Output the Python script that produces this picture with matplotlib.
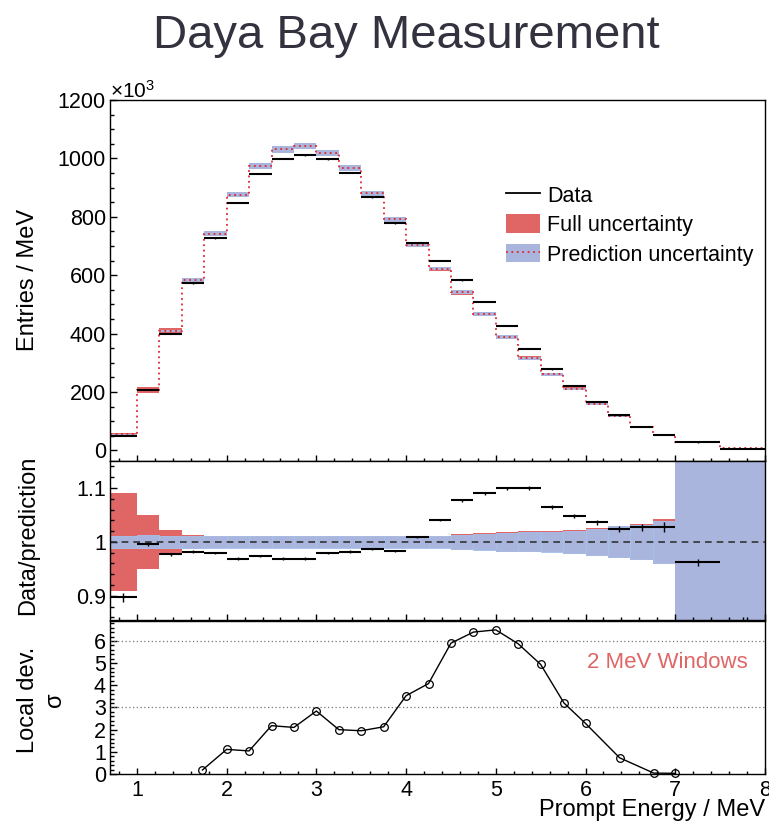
#!/usr/bin/env python3
"""
Daya Bay prompt-energy spectrum: data vs prediction, ratio, local deviation.
"""

import numpy as np
import matplotlib
matplotlib.use("Agg")
import matplotlib.pyplot as plt
from matplotlib.patches import Patch
from matplotlib.lines import Line2D
from matplotlib.ticker import MultipleLocator

plt.rcParams["font.family"] = ["Liberation Sans", "DejaVu Sans"]
plt.rcParams["mathtext.fontset"] = "custom"
plt.rcParams["mathtext.rm"] = "Liberation Sans"
plt.rcParams["mathtext.it"] = "Liberation Sans"

# ── DATA ───────────────────────────────────────────────────────────
bin_edges = [0.7, 1.0, 1.25, 1.5, 1.75, 2.0, 2.25, 2.5, 2.75, 3.0, 3.25, 3.5,
             3.75, 4.0, 4.25, 4.5, 4.75, 5.0, 5.25, 5.5, 5.75, 6.0, 6.25, 6.5,
             6.75, 7.0, 7.5, 8.0]

# prediction, entries / MeV (x10^3)
prediction = [55, 208, 409, 583, 742, 876, 973, 1031, 1043, 1018, 968, 880,
              792, 705, 623, 541, 467, 389, 316, 261, 211, 160, 117, 79, 53,
              28.5, 8]

# data / prediction
ratio = [0.897, 0.996, 0.977, 0.982, 0.980, 0.969, 0.974, 0.969, 0.969,
         0.980, 0.982, 0.986, 0.983, 1.009, 1.041, 1.077, 1.090, 1.0995,
         1.100, 1.064, 1.048, 1.036, 1.024, 1.027, 1.027, 0.962, 0.84]
ratio_err = [0.0085, 0.004, 0.003, 0.002, 0.002, 0.002, 0.002, 0.002, 0.002,
             0.002, 0.002, 0.002, 0.002, 0.002, 0.002, 0.0025, 0.0025, 0.003,
             0.003, 0.0035, 0.004, 0.005, 0.006, 0.0066, 0.009, 0.006, 0.02]

# relative half-widths of the bands
full_unc = [0.091, 0.050, 0.022, 0.013, 0.011, 0.011, 0.011, 0.011, 0.011,
            0.011, 0.011, 0.011, 0.011, 0.011, 0.011, 0.0145, 0.016, 0.018,
            0.0195, 0.0195, 0.0225, 0.026, 0.030, 0.034, 0.042, 0.05, 0.08]
pred_unc = [0.011, 0.012, 0.011, 0.011, 0.0105, 0.0105, 0.0105, 0.0105,
            0.0105, 0.0105, 0.0105, 0.0105, 0.0105, 0.0105, 0.0105, 0.0128,
            0.015, 0.0165, 0.0175, 0.019, 0.021, 0.024, 0.029, 0.032, 0.039,
            0.045, 0.07]

# local deviation in 2 MeV windows
window_center = [1.73, 2.0, 2.25, 2.5, 2.75, 3.0, 3.25, 3.5, 3.75, 4.0, 4.25,
                 4.5, 4.75, 5.0, 5.25, 5.5, 5.76, 6.0, 6.38, 6.76, 7.0]
local_sigma = [0.18, 1.11, 1.04, 2.18, 2.10, 2.84, 2.00, 1.95, 2.13, 3.53,
               4.08, 5.90, 6.40, 6.50, 5.87, 4.94, 3.20, 2.28, 0.73, 0.04, 0.03]

# ── STYLE ──────────────────────────────────────────────────────────
RED = "#e06666"
BLUE = "#a9b5dd"
DOT_RED = "#e3262e"
TICK_FS = 15.5
LABEL_FS = 17

edges = np.array(bin_edges)
left, right = edges[:-1], edges[1:]
widths = right - left
centers = 0.5 * (left + right)
pred = np.array(prediction)
rat = np.array(ratio)
data = pred * rat
full = np.array(full_unc)
punc = np.array(pred_unc)

W, H = 769, 823
fig = plt.figure(figsize=(W / 100, H / 100), dpi=100)


def box(y_top, y_bot):
    return [110 / W, 1 - y_bot / H, (765 - 110) / W, (y_bot - y_top) / H]


ax1 = fig.add_axes(box(100, 461))
ax2 = fig.add_axes(box(461, 620))
ax3 = fig.add_axes(box(621, 774))

for ax in (ax1, ax2, ax3):
    ax.set_xlim(0.7, 8.0)
    ax.xaxis.set_major_locator(MultipleLocator(1))
    ax.xaxis.set_minor_locator(MultipleLocator(0.2))
    ax.tick_params(which="both", direction="in", top=False, right=False,
                   labelsize=TICK_FS, width=1.0, colors="black")
    ax.tick_params(axis="x", which="major", length=4.2, pad=4)
    ax.tick_params(axis="x", which="minor", length=2.0)
    ax.tick_params(axis="y", which="major", length=5.0, pad=3)
    ax.tick_params(axis="y", which="minor", length=2.8)
    for sp in ax.spines.values():
        sp.set_linewidth(1.0)
ax1.tick_params(axis="x", labelbottom=False)
ax2.tick_params(axis="x", labelbottom=False)

# ── Top panel: spectrum ───────────────────────────────────────────
ax1.bar(left, 2 * full * pred, bottom=pred * (1 - full), width=widths,
        align="edge", color=RED, linewidth=0)
ax1.bar(left, 2 * punc * pred, bottom=pred * (1 - punc), width=widths,
        align="edge", color=BLUE, linewidth=0)
ax1.stairs(pred, edges, color=DOT_RED, linestyle=(0, (1, 2)), linewidth=1.3)
ax1.hlines(data, left, right, color="black", linewidth=1.5)
ax1.errorbar(centers, data, yerr=data * np.array(ratio_err), fmt="none",
             ecolor="black", elinewidth=1.0)
ax1.set_ylim(-36, 1200)
ax1.yaxis.set_major_locator(MultipleLocator(200))
ax1.yaxis.set_minor_locator(MultipleLocator(50))

handles = [
    Line2D([0], [0], color="black", linewidth=1.3),
    Patch(facecolor=RED, linewidth=0),
    (Patch(facecolor=BLUE, linewidth=0),
     Line2D([0], [0], color=DOT_RED, linestyle=(0, (1, 2)), linewidth=1.3)),
]
ax1.legend(handles, ["Data", "Full uncertainty", "Prediction uncertainty"],
           loc="upper left", bbox_to_anchor=(506 / W, 1 - 185 / H),
           bbox_transform=fig.transFigure, frameon=False,
           fontsize=15.5, borderpad=0, borderaxespad=0, handlelength=1.6,
           handleheight=0.95, handletextpad=0.32, labelspacing=0.36)

# ── Middle panel: data / prediction ───────────────────────────────
inner = left < 7.0
ax2.bar(left, 2 * full, bottom=1 - full, width=widths, align="edge",
        color=RED, linewidth=0)
ax2.bar(left[inner], 2 * punc[inner], bottom=1 - punc[inner],
        width=widths[inner], align="edge", color=BLUE, edgecolor="#a3c3ee",
        linewidth=0.6)
# prediction band runs off the scale above 7 MeV
ax2.bar(left[~inner], 2.0, bottom=0.0, width=widths[~inner], align="edge",
        color=BLUE, linewidth=0)
ax2.axhline(1.0, color="#333333", linestyle=(0, (4, 3)), linewidth=1.2)
ax2.hlines(rat, left, right, color="black", linewidth=1.5)
ax2.errorbar(centers, rat, yerr=ratio_err, fmt="none", ecolor="black",
             elinewidth=1.0)
ax2.set_ylim(0.855, 1.15)
ax2.set_yticks([0.9, 1.0, 1.1])
ax2.set_yticklabels(["0.9", "1", "1.1"])
ax2.yaxis.set_minor_locator(MultipleLocator(0.02))

# ── Bottom panel: local deviation ─────────────────────────────────
for lvl in (3, 6):
    ax3.axhline(lvl, color="#777777", linestyle=(0, (1, 2)), linewidth=0.9)
ax3.plot(window_center, local_sigma, color="black", linewidth=1.0,
         marker="o", markersize=5.5, markerfacecolor="none",
         markeredgewidth=0.9, clip_on=False, zorder=3)
ax3.set_ylim(0, 6.9)
ax3.yaxis.set_major_locator(MultipleLocator(1))
ax3.yaxis.set_minor_locator(MultipleLocator(0.2))
ax3.text(667 / W, 1 - 662 / H, "2 MeV Windows", transform=fig.transFigure,
         color=RED, fontsize=16, ha="center", va="center")

# ── Labels ────────────────────────────────────────────────────────
fig.text(0.529, 1 - 36 / H, "Daya Bay Measurement", fontsize=34,
         color="#333340", ha="center", va="center")
fig.text(110 / W, 1 - 91 / H, r"$\times10^{3}$", fontsize=15,
         ha="left", va="center")
fig.text(28 / W, 1 - 280 / H, "Entries / MeV", fontsize=LABEL_FS,
         rotation=90, ha="center", va="center")
fig.text(28 / W, 1 - 535 / H, "Data/prediction", fontsize=LABEL_FS,
         rotation=90, ha="center", va="center")
fig.text(28 / W, 1 - 700 / H, "Local dev.", fontsize=LABEL_FS,
         rotation=90, ha="center", va="center")
fig.text(55 / W, 1 - 700 / H, "σ", fontsize=LABEL_FS,
         rotation=90, ha="center", va="center")
fig.text(765 / W, 1 - 810 / H, "Prompt Energy / MeV", fontsize=LABEL_FS,
         ha="right", va="center")

fig.savefig("out.png", dpi=100)
